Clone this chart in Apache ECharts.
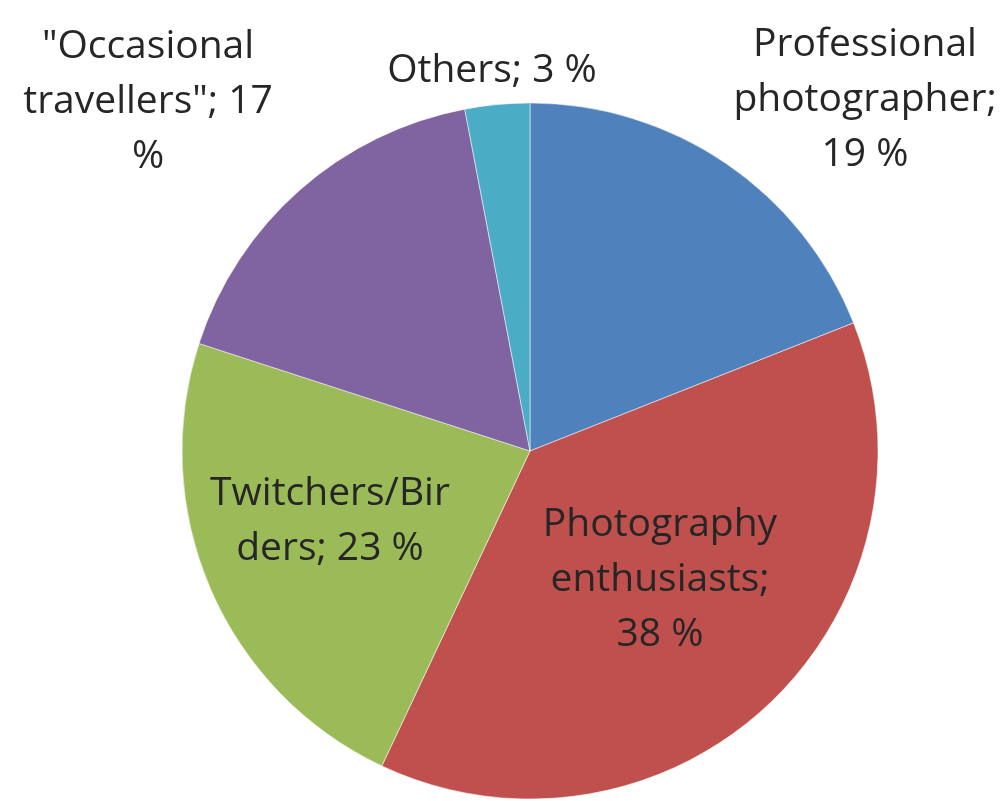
<!DOCTYPE html>
<html>
<head>
<meta charset="utf-8">
<script src="https://cdn.jsdelivr.net/npm/echarts@6/dist/echarts.min.js"></script>
<style>
html,body{margin:0;padding:0;background:#fff;}
#chart{width:1002px;height:801px;}
</style>
</head>
<body>
<div id="chart"></div>
<script>
const categories = ['Professional photographer', 'Photography enthusiasts', 'Twitchers/Birders', '"Occasional travellers"', 'Others'];
const values = [19, 38, 23, 17, 3];
const labelTexts = ['Professional\nphotographer;\n19 %', 'Photography\nenthusiasts;\n38 %', 'Twitchers/Bir\nders; 23 %', '"Occasional\ntravellers"; 17\n%', 'Others; 3 %'];
const colors = ['#4F81BD', '#C0504D', '#9BBB59', '#8064A2', '#4BACC6'];

const labelPos = [[865, 100], [660, 580], [330, 521], [148, 102], [492, 71]];

const chart = echarts.init(document.getElementById('chart'), null, {renderer: 'canvas'});
chart.setOption({
  animation: false,
  backgroundColor: '#ffffff',
  series: [{
    type: 'pie',
    center: [530, 451],
    radius: 348,
    startAngle: 90,
    clockwise: true,
    data: categories.map((c, i) => ({
      name: c,
      value: values[i],
      itemStyle: {color: colors[i]},
      label: {formatter: labelTexts[i]}
    })),
    itemStyle: {borderColor: 'rgba(255,255,255,0.5)', borderWidth: 1},
    label: {
      show: true,
      position: 'inside',
      fontFamily: 'Open Sans',
      fontSize: 39,
      lineHeight: 55,
      color: '#262626',
      align: 'center'
    },
    labelLine: {show: false},
    labelLayout: function (p) {
      const pos = labelPos[p.dataIndex];
      return {x: pos[0], y: pos[1], align: 'center', verticalAlign: 'middle'};
    },
    emphasis: {disabled: true}
  }]
});
</script>
</body>
</html>
